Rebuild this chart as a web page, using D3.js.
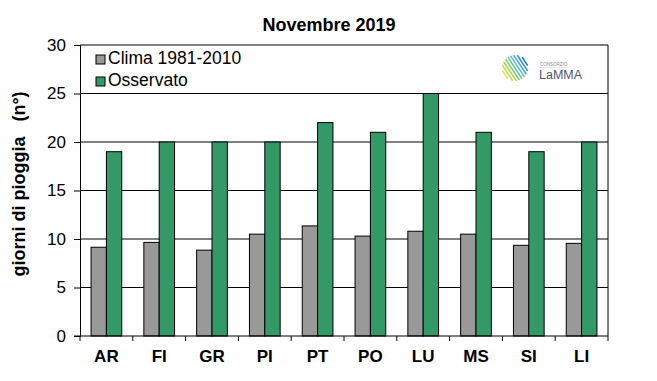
<!DOCTYPE html>
<html>
<head>
<meta charset="utf-8">
<script src="https://cdn.jsdelivr.net/npm/d3@7"></script>
<style>
  body { margin: 0; background: #fff; }
  text { font-family: Arial, "Liberation Sans", sans-serif; }
</style>
</head>
<body>
<svg id="chart" width="657" height="381"></svg>
<script>
// dati: giorni di pioggia, novembre 2019
var stations = ["AR", "FI", "GR", "PI", "PT", "PO", "LU", "MS", "SI", "LI"];
var clima = [9.15, 9.65, 8.85, 10.5, 11.35, 10.3, 10.8, 10.5, 9.35, 9.55];
var osservato = [19, 20, 20, 20, 22, 21, 25, 21, 19, 20];
var seriesNames = ["Clima 1981-2010", "Osservato"];
var seriesColors = ["#999999", "#339966"];
var yTicks = [0, 5, 10, 15, 20, 25, 30];

var svg = d3.select("#chart");
var pLeft = 80, pRight = 608, pTop = 45, pBottom = 336;

var x = d3.scaleBand().domain(stations).range([pLeft, pRight]);
var x1 = d3.scaleBand().domain([0, 1]).range([0, x.bandwidth()]).paddingOuter(0.72).paddingInner(0);
var y = d3.scaleLinear().domain([0, 30]).range([pBottom, pTop]);

// griglia
svg.append("g")
  .selectAll("line")
  .data(yTicks.slice(1))
  .join("line")
  .attr("x1", pLeft).attr("x2", pRight)
  .attr("y1", d => y(d)).attr("y2", d => y(d))
  .attr("stroke", "#000").attr("stroke-width", 1);

// barre
var series = [clima, osservato];
series.forEach(function (vals, s) {
  svg.append("g")
    .selectAll("rect")
    .data(vals)
    .join("rect")
    .attr("x", (d, i) => x(stations[i]) + x1(s))
    .attr("y", d => y(d))
    .attr("width", x1.bandwidth())
    .attr("height", d => pBottom - y(d))
    .attr("fill", seriesColors[s])
    .attr("stroke", "#000")
    .attr("stroke-width", 1);
});

// asse y
var yAxis = svg.append("g")
  .attr("transform", "translate(" + pLeft + ",0)")
  .call(d3.axisLeft(y).tickValues(yTicks).tickSize(6).tickPadding(8));
yAxis.select(".domain").attr("stroke", "#000");
yAxis.selectAll("text").attr("font-size", "17px").attr("fill", "#000")
  .style("font-family", "Arial, 'Liberation Sans', sans-serif");

// asse x
var xAxis = svg.append("g")
  .attr("transform", "translate(0," + pBottom + ")")
  .call(d3.axisBottom(x).tickSize(0).tickPadding(14));
xAxis.select(".domain").remove();
xAxis.selectAll("text").attr("font-size", "17px").attr("font-weight", "bold").attr("fill", "#000")
  .style("font-family", "Arial, 'Liberation Sans', sans-serif");

svg.append("line")
  .attr("x1", pLeft - 6).attr("x2", pRight)
  .attr("y1", pBottom).attr("y2", pBottom)
  .attr("stroke", "#000");
svg.append("line")
  .attr("x1", pRight).attr("x2", pRight)
  .attr("y1", pTop).attr("y2", pBottom + 5)
  .attr("stroke", "#000");
svg.append("g")
  .selectAll("line")
  .data(stations)
  .join("line")
  .attr("x1", d => x(d)).attr("x2", d => x(d))
  .attr("y1", pBottom).attr("y2", pBottom + 5)
  .attr("stroke", "#000");

// titolo
svg.append("text")
  .attr("x", 329).attr("y", 31)
  .attr("text-anchor", "middle")
  .attr("font-size", "18px").attr("font-weight", "bold")
  .text("Novembre 2019");

svg.append("text")
  .attr("transform", "translate(25,184) rotate(-90)")
  .attr("text-anchor", "middle")
  .attr("font-size", "18px").attr("font-weight", "bold")
  .attr("xml:space", "preserve")
  .text("giorni di pioggia   (n°)");

// legenda
var legend = svg.append("g");
seriesNames.forEach(function (name, i) {
  legend.append("rect")
    .attr("x", 96).attr("y", 55 + i * 22)
    .attr("width", 9).attr("height", 9)
    .attr("fill", seriesColors[i]).attr("stroke", "#000");
  legend.append("text")
    .attr("x", 108).attr("y", 64 + i * 22)
    .attr("font-size", "17.5px")
    .text(name);
});

// logo LaMMA
var logo = svg.append("g");
logo.append("rect").attr("x", 490).attr("y", 47).attr("width", 116).attr("height", 44).attr("fill", "#fff");
var stripeColors = ["#1f6fb8", "#2f8ccf", "#45a6d8", "#56bcc9", "#5fc29a", "#7fc76a", "#a3cf4c", "#c6d83c", "#dfe05a"];
var cx = 515, cy = 68, r = 13;
stripeColors.forEach(function (c, i) {
  var o = 12 - i * 3;
  var h = Math.sqrt(Math.max(r * r - o * o, 4));
  var px = cx + o * 0.83, py = cy - o * 0.55;
  logo.append("line")
    .attr("x1", px - h * 0.55).attr("y1", py - h * 0.83)
    .attr("x2", px + h * 0.55).attr("y2", py + h * 0.83)
    .attr("stroke", c).attr("stroke-width", 1.5);
});
logo.append("text").attr("x", 540).attr("y", 66).attr("font-size", "4.5px").attr("fill", "#888").text("CONSORZIO");
logo.append("line").attr("x1", 540).attr("x2", 568).attr("y1", 67.5).attr("y2", 67.5).attr("stroke", "#ccc").attr("stroke-width", 0.5);
logo.append("text").attr("x", 539).attr("y", 79).attr("font-size", "12.5px").attr("fill", "#4a5a6a").text("LaMMA");
</script>
</body>
</html>
